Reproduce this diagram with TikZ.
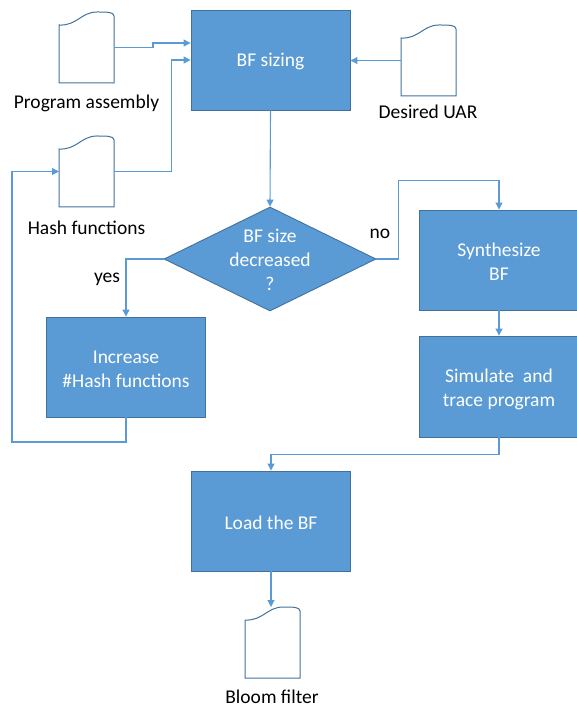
\documentclass[tikz,border=0pt]{standalone}
\usepackage{fontspec}
\setmainfont{Carlito}
\usetikzlibrary{arrows.meta,calc,shapes.geometric}
\definecolor{boxfill}{HTML}{5B9BD5}
\definecolor{boxline}{HTML}{41719C}
\definecolor{conn}{HTML}{5B9BD5}
\newcommand\docshape[3]{%
  \draw[docline] (#2,#3+13) .. controls (#2+18,#3+14) and (#2+22,#3) .. (#2+38,#3)
    .. controls (#2+48,#3) and (#2+55,#3) .. (#2+55,#3+4) -- (#2+55,#3+71) -- (#2,#3+71) -- cycle;
  \node[inner sep=0pt, outer sep=0pt, minimum width=55pt, minimum height=71pt] (#1) at (#2+27.5,#3+35.5) {};
}
\begin{document}
\begin{tikzpicture}[x=1pt,y=-1pt,
  font=\fontsize{19.5}{24}\selectfont,
  procbox/.style={rectangle, draw=boxline, fill=boxfill, line width=0.9pt, text=white,
    minimum width=159pt, minimum height=100pt, inner sep=0pt, align=center},
  docline/.style={draw=boxline, line width=1pt},
  arr/.style={draw=conn, line width=1.1pt, -{Triangle[length=7pt,width=7pt]}},
  lbl/.style={text=black, inner sep=0pt}]
\useasboundingbox (0,0) rectangle (576,708);

% process boxes
\node[procbox] (sizing) at (270.5,60) {};
\node[text=white, inner sep=0pt] (sizingtext) at (270.5,61.5) {BF sizing};
\node[diamond, draw=boxline, fill=boxfill, line width=0.9pt, minimum width=212pt, minimum height=104pt, inner sep=0pt] (dec) at (270,259) {};
\node[text=white, align=center, inner sep=0pt] (dectext) at (270,260) {BF size\\decreased\\?};
\node[procbox] (increase) at (126,367) {};
\node[text=white, align=center, inner sep=0pt] (increasetext) at (126,369) {Increase\\\#Hash functions};
\node[procbox, minimum width=160pt] (synth) at (499,260) {};
\node[text=white, align=center, inner sep=0pt] (synthtext) at (499,262) {Synthesize\\BF};
\node[procbox, minimum width=160pt, minimum height=101pt] (sim) at (499,386.5) {};
\node[text=white, align=center, inner sep=0pt] (simtext) at (499,389) {Simulate~ and\\trace program};
\node[procbox] (load) at (271,521) {};
\node[text=white, inner sep=0pt] (loadtext) at (271,522.5) {Load the BF};

% documents
\docshape{pa}{59}{12}
\docshape{hf}{59}{136}
\docshape{uar}{401}{25}
\docshape{bloom}{245}{607}

% labels
\node[lbl] (palbl) at (86.5,103) {Program assembly};
\node[lbl] (hflbl) at (86.5,228) {Hash functions};
\node[lbl] (uarlbl) at (428,112) {Desired UAR};
\node[lbl] (bloomlbl) at (272,697) {Bloom filter};
\node[lbl] (yeslbl) at (107,279) {yes};
\node[lbl] (nolbl) at (380,234) {no};

% connectors
\draw[arr] (pa.east) -- ($(pa.east)+(39,0)$) |- ($(sizing.west)+(0,-17)$);
\draw[arr] (hf.east) -| ($(sizing.west)+(-19,0)$) -- (sizing.west);
\draw[arr] (uar.west) -- (uar.west -| sizing.east);
\draw[arr] (sizing.south) -- (dec.north);
\draw[arr] (dec.west) -| (increase.north);
\coordinate (loopc) at (12,442);
\draw[arr] (increase.south) |- (loopc) |- (hf.west);
\draw[arr] (dec.east) -- ($(dec.east)+(22,0)$) |- ($(synth.north)+(0,-29)$) -- (synth.north);
\draw[arr] (synth.south) -- (sim.north);
\draw[arr] (sim.south) -- ($(sim.south)+(0,17)$) -| (load.north);
\draw[arr] (load.south) -- (load.south |- bloom.north);
\end{tikzpicture}
\end{document}
